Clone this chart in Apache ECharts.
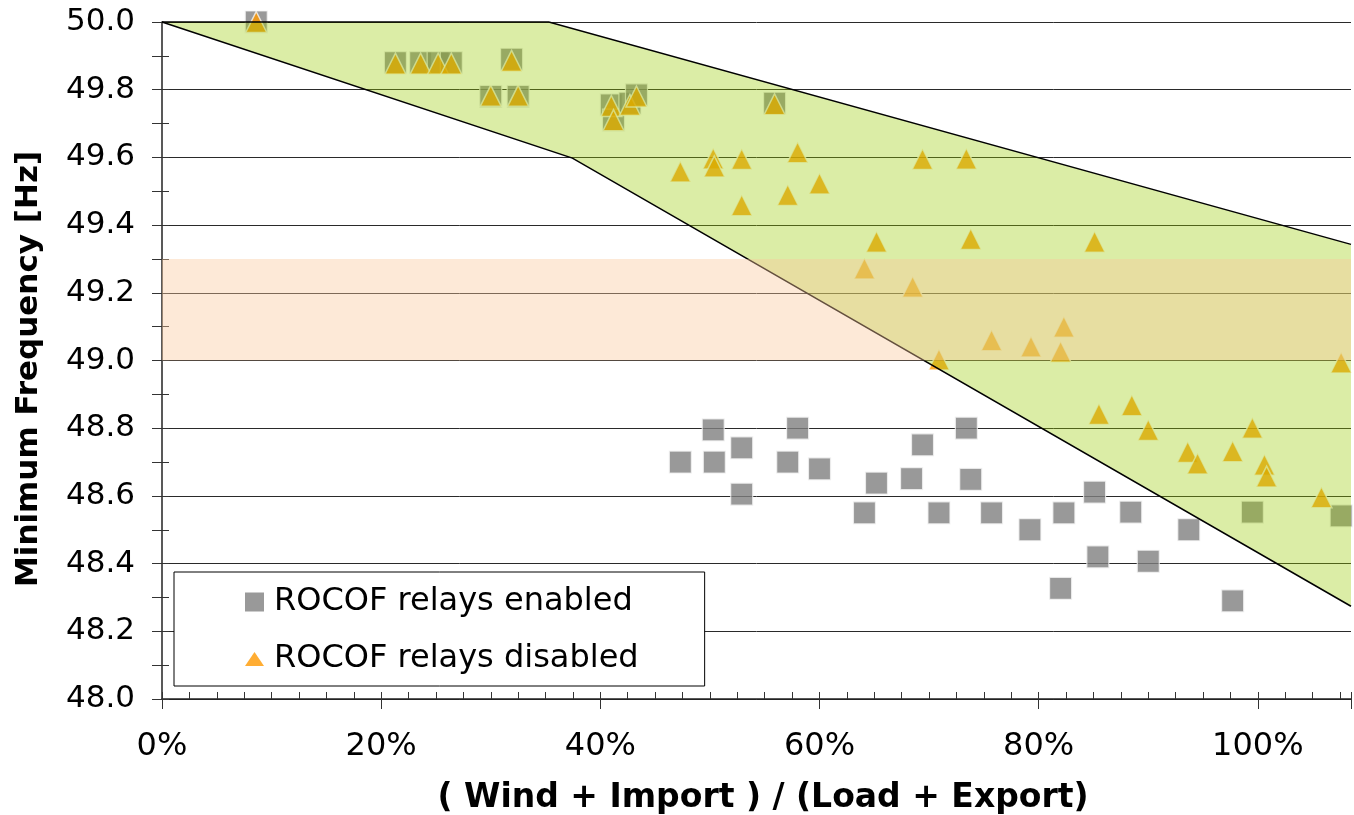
<!DOCTYPE html>
<html>
<head>
<meta charset="utf-8">
<title>Minimum Frequency vs (Wind + Import) / (Load + Export)</title>
<script src="https://cdn.jsdelivr.net/npm/echarts@6/dist/echarts.min.js"></script>
<style>
  html, body { margin: 0; padding: 0; background: #fff; overflow: hidden; }
  #chart { width: 100vw; height: 100vh; }
</style>
</head>
<body>
<div id="chart"></div>
<script>
// Axis setup
const xMin = 0, xMax = 1.085, xMajor = 0.2, xMinor = 0.025;
const yMin = 48.0, yMax = 50.0, yMajor = 0.2, yMinor = 0.1;

// ROCOF relays enabled: [share of (wind+import)/(load+export), min frequency Hz]
const enabledX = [0.086, 0.213, 0.236, 0.252, 0.264, 0.300, 0.319, 0.325,
  0.410, 0.412, 0.427, 0.433, 0.559,
  0.473, 0.503, 0.504, 0.529, 0.529, 0.571, 0.580, 0.600, 0.641, 0.652,
  0.684, 0.694, 0.709, 0.734, 0.738, 0.757, 0.792, 0.820, 0.823, 0.851,
  0.854, 0.884, 0.900, 0.937, 0.977, 0.995, 1.076];
const enabledY = [50.00, 49.88, 49.88, 49.88, 49.88, 49.78, 49.89, 49.78,
  49.755, 49.71, 49.76, 49.785, 49.76,
  48.70, 48.795, 48.70, 48.742, 48.605, 48.70, 48.80, 48.68, 48.55, 48.638,
  48.651, 48.751, 48.55, 48.80, 48.649, 48.55, 48.50, 48.327, 48.55, 48.611,
  48.42, 48.552, 48.407, 48.50, 48.29, 48.552, 48.541];

// ROCOF relays disabled
const disabledX = [0.086, 0.213, 0.236, 0.252, 0.264, 0.300, 0.319, 0.325,
  0.410, 0.412, 0.427, 0.433, 0.559,
  0.473, 0.503, 0.504, 0.529, 0.529, 0.571, 0.580, 0.600, 0.641, 0.652,
  0.685, 0.694, 0.709, 0.734, 0.738, 0.757, 0.793, 0.820, 0.823, 0.851,
  0.855, 0.885, 0.900, 0.936, 0.945, 0.977, 0.995, 1.006, 1.008, 1.058, 1.076];
const disabledY = [50.00, 49.877, 49.877, 49.877, 49.877, 49.782, 49.885, 49.782,
  49.752, 49.71, 49.755, 49.78, 49.757,
  49.558, 49.597, 49.573, 49.595, 49.459, 49.489, 49.615, 49.523, 49.272, 49.351,
  49.218, 49.595, 49.003, 49.596, 49.359, 49.06, 49.041, 49.026, 49.10, 49.351,
  48.842, 48.868, 48.795, 48.730, 48.696, 48.732, 48.801, 48.692, 48.657, 48.596, 48.994];

// Envelope of the disabled-relay results
const envelopeUpperX = [0, 0.353, 1.085];
const envelopeUpperY = [50.0, 50.0, 49.343];
const envelopeLowerX = [0, 0.3745, 1.085];
const envelopeLowerY = [50.0, 49.598, 48.274];

// Under-frequency band
const bandLow = 49.0, bandHigh = 49.3;

const seriesNames = ['ROCOF relays enabled', 'ROCOF relays disabled'];
const xTitle = '( Wind + Import ) / (Load + Export)';
const yTitle = 'Minimum Frequency [Hz]';

const FONT = '"DejaVu Sans", Verdana, sans-serif';
const pairs = (xs, ys) => xs.map((x, i) => [x, ys[i]]);

const chart = echarts.init(document.getElementById('chart'), null, { renderer: 'canvas' });

const tickColor = '#333';

chart.setOption({
  animation: false,
  backgroundColor: '#fff',
  grid: { left: 162, right: 0, top: 22, bottom: 116, containLabel: false },
  xAxis: [
    {
      type: 'value', min: xMin, max: xMax, interval: xMajor, position: 'bottom',
      axisLine: { show: true, onZero: false, lineStyle: { color: '#222', width: 1.5 } },
      axisTick: { show: true, inside: false, length: 10, lineStyle: { color: tickColor } },
      axisLabel: {
        show: true, margin: 32, fontFamily: FONT, fontSize: 32, color: '#000',
        formatter: v => {
          const k = v / xMajor;
          return Math.abs(k - Math.round(k)) < 1e-6 ? Math.round(v * 100) + '%' : '';
        }
      },
      splitLine: { show: false }
    },
    {
      type: 'value', min: xMin, max: xMax, interval: xMinor, position: 'bottom',
      axisLine: { show: false, onZero: false },
      axisTick: { show: true, inside: true, length: 7, lineStyle: { color: tickColor } },
      axisLabel: { show: false },
      splitLine: { show: false }
    }
  ],
  yAxis: [
    {
      type: 'value', min: yMin, max: yMax, interval: yMajor, position: 'left',
      axisLine: { show: true, onZero: false, lineStyle: { color: '#222', width: 1.5 } },
      axisTick: { show: true, inside: false, length: 10, lineStyle: { color: tickColor } },
      minorTick: { show: true, splitNumber: 2, length: 10, lineStyle: { color: tickColor } },
      axisLabel: {
        margin: 27, fontFamily: FONT, fontSize: 31, color: '#000',
        formatter: v => v.toFixed(1)
      },
      splitLine: { show: true, lineStyle: { color: '#2a2a2a', width: 1 } }
    },
    {
      type: 'value', min: yMin, max: yMax, interval: yMinor, position: 'left',
      axisLine: { show: false, onZero: false },
      axisTick: { show: true, inside: true, length: 7, lineStyle: { color: tickColor } },
      axisLabel: { show: false },
      splitLine: { show: false }
    }
  ],
  legend: {
    left: 174, top: 572, orient: 'vertical',
    padding: [14, 66, 11, 71],
    itemGap: 25, itemWidth: 19, itemHeight: 19,
    backgroundColor: '#fff', borderColor: '#000', borderWidth: 1,
    selectedMode: false,
    textStyle: { fontFamily: FONT, fontSize: 32, color: '#000', lineHeight: 32, padding: [0, 0, 0, 5] },
    data: [
      { name: seriesNames[0], icon: 'rect', itemStyle: { color: '#808080', borderWidth: 0 } },
      { name: seriesNames[1], icon: 'path://M0,12L8.25,0L16.5,12Z', itemStyle: { color: '#FF9900', borderWidth: 0 } }
    ]
  },
  graphic: [
    {
      type: 'text', x: 763, y: 798, z: 10,
      style: { text: xTitle, font: 'bold 33px ' + FONT, fill: '#000', textAlign: 'center', textVerticalAlign: 'middle' }
    },
    {
      type: 'text', x: 29, y: 369, rotation: Math.PI / 2, z: 10,
      style: { text: yTitle, font: 'bold 31px ' + FONT, fill: '#000', textAlign: 'center', textVerticalAlign: 'middle' }
    }
  ],
  series: [
    {
      name: seriesNames[0], type: 'scatter', z: 2, clip: false,
      symbol: 'rect', symbolSize: 22,
      itemStyle: { color: '#808080', borderColor: '#f2f2f2', borderWidth: 1.2 },
      data: pairs(enabledX, enabledY)
    },
    {
      name: seriesNames[1], type: 'scatter', z: 2, clip: false,
      symbol: 'triangle', symbolSize: 21,
      itemStyle: { color: '#FF9900', borderColor: 'rgba(255,255,255,0.9)', borderWidth: 1.5 },
      data: pairs(disabledX, disabledY)
    },
    {
      type: 'custom', z: 3, silent: true, clip: false,
      xAxisIndex: 0, yAxisIndex: 0,
      data: [[envelopeUpperX[0], envelopeUpperY[0]]],
      renderItem: (params, api) => {
        const up = envelopeUpperX.map((x, i) => api.coord([x, envelopeUpperY[i]]));
        const lo = envelopeLowerX.map((x, i) => api.coord([x, envelopeLowerY[i]]));
        const poly = up.concat(lo.slice().reverse());
        return {
          type: 'group',
          children: [
            { type: 'polygon', shape: { points: poly }, style: { fill: 'rgba(153,204,0,0.35)' } },
            { type: 'polyline', shape: { points: up }, style: { stroke: '#000', lineWidth: 1.5, fill: null } },
            { type: 'polyline', shape: { points: lo }, style: { stroke: '#000', lineWidth: 1.5, fill: null } }
          ]
        };
      }
    },
    {
      type: 'custom', z: 4, silent: true, clip: false,
      xAxisIndex: 0, yAxisIndex: 0,
      data: [[xMin, bandLow]],
      renderItem: (params, api) => {
        const p1 = api.coord([xMin, bandHigh]);
        const p2 = api.coord([xMax, bandLow]);
        return {
          type: 'rect',
          shape: { x: p1[0], y: p1[1], width: p2[0] - p1[0], height: p2[1] - p1[1] },
          style: { fill: 'rgba(250,200,155,0.4)' }
        };
      }
    }
  ]
});
window.addEventListener('resize', () => chart.resize());
</script>
</body>
</html>
